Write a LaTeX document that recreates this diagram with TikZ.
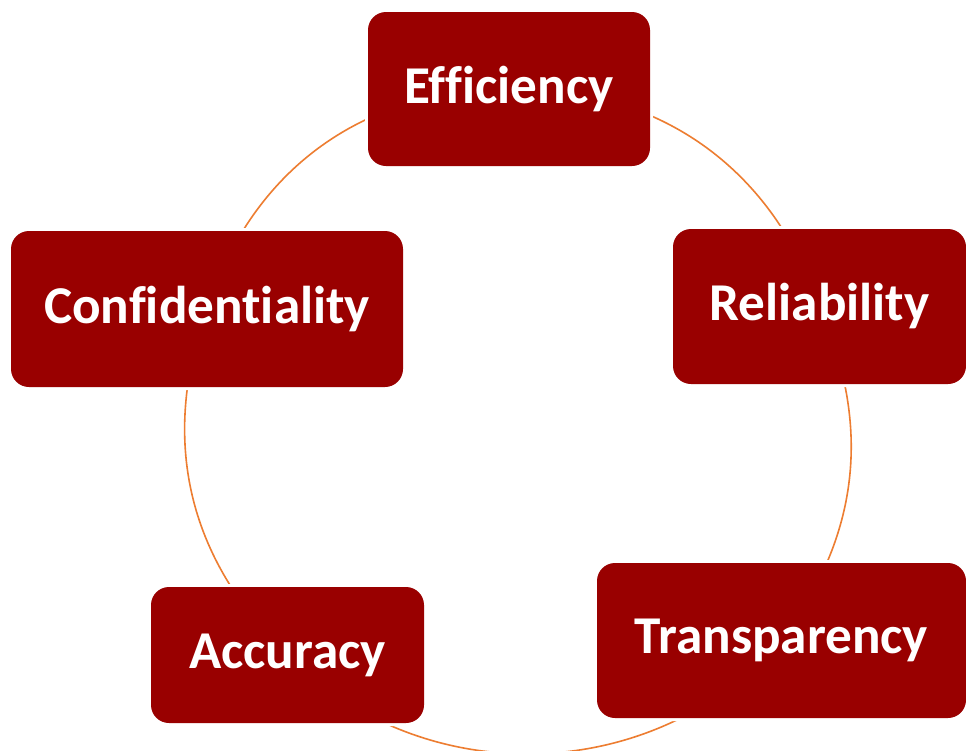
\documentclass[tikz,border=0pt]{standalone}
\usepackage{fontspec}
\setmainfont{Carlito}[Ligatures=NoCommon]
\usetikzlibrary{backgrounds}
\definecolor{boxred}{RGB}{153,0,0}
\definecolor{ringorange}{RGB}{237,125,49}

\begin{document}
\begin{tikzpicture}[x=0.5pt, y=-0.5pt,
		box/.style={fill=boxred, rounded corners=9pt, text=white, inner sep=0pt,
			font=\fontsize{26.6}{30}\selectfont\bfseries,
			preaction={draw=white, line width=3pt}},
		ring/.style={draw=ringorange, line width=0.8pt}]
		\useasboundingbox (0,0) rectangle (966,751);
		\foreach \name/\x/\y/\w/\h/\txt in {eff/509/89/282/154/Efficiency, rel/819.5/306.5/293/155/Reliability, trans/781.5/640.5/369/155/Transparency, acc/287.5/655/273/136/Accuracy, conf/207/309/392/156/Confidentiality} {
			\node[box, minimum width=\w*0.5pt, minimum height=\h*0.5pt] (\name) at (\x,\y) {\txt};
		}
		\begin{scope}[on background layer]
			\fill[white] (0,0) rectangle (966,751);
			\foreach \a/\b/\bend in {eff/rel/36, rel/trans/30, trans/acc/47, acc/conf/33, conf/eff/36} {
				\draw[ring] (\a.center) to[bend left=\bend] (\b.center);
			}
		\end{scope}
	\end{tikzpicture}
\end{document}
